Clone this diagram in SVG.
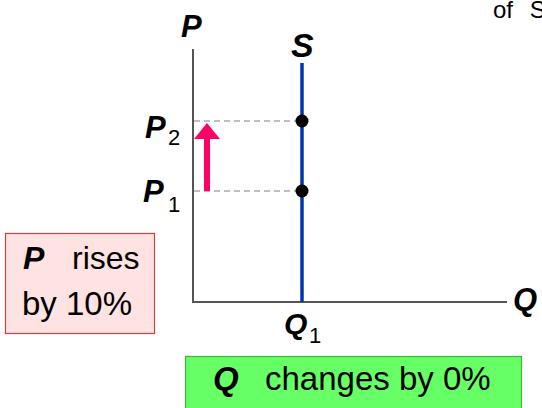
<svg xmlns="http://www.w3.org/2000/svg" width="542" height="408" viewBox="0 0 542 408">
<style>
text{font-family:"Liberation Sans","DejaVu Sans",sans-serif;fill:#000}
.bi{font-weight:bold;font-style:italic}
.axis{stroke:#555;stroke-width:2;fill:none}
.dash{stroke:#aaa;stroke-width:1.5;stroke-dasharray:6 4;fill:none}
</style>
<rect width="542" height="408" fill="#fff"/>
<text x="493" y="18" font-size="24" word-spacing="10">of S</text>
<g id="connectors">
<line class="dash" x1="194" y1="121" x2="302" y2="121"/>
<line class="dash" x1="194" y1="191" x2="302" y2="191"/>
<line x1="207" y1="191" x2="207" y2="136" stroke="#ff0066" stroke-width="6"/>
<polygon points="207,123 220,139 194,139" fill="#ff0066"/>
</g>
<g id="axes">
<polyline class="axis" points="193,49 193,302 507,302"/>
<text class="bi" x="181" y="37" font-size="31">P</text>
<text class="bi" x="513" y="310" font-size="31">Q</text>
</g>
<g id="supply">
<line x1="302" y1="63" x2="302" y2="302" stroke="#0038a8" stroke-width="3.5"/>
<text class="bi" x="291" y="57" font-size="34">S</text>
</g>
<g id="p2">
<circle cx="302" cy="121" r="6.5" fill="#000"/>
<text class="bi" x="145" y="138" font-size="31">P</text>
<text x="168" y="145" font-size="22">2</text>
</g>
<g id="p1">
<circle cx="302" cy="191" r="6.5" fill="#000"/>
<text class="bi" x="143" y="202" font-size="31">P</text>
<text x="168" y="212" font-size="22">1</text>
</g>
<g id="q1">
<text class="bi" x="284" y="334" font-size="30">Q</text>
<text x="309" y="343" font-size="22">1</text>
</g>
<g id="price-box">
<rect x="5.5" y="233.5" width="149" height="100" fill="#ffe3e3" stroke="#d04040" stroke-width="1.2"/>
<text x="23" y="269" font-size="32"><tspan class="bi">P</tspan><tspan x="72">rises</tspan></text>
<text x="22" y="315" font-size="33">by 10%</text>
</g>
<g id="qty-box">
<rect x="185.5" y="356.5" width="336" height="60" fill="#66ff66" stroke="#3cb83c" stroke-width="1.2"/>
<text x="213" y="390" font-size="33"><tspan class="bi">Q</tspan><tspan x="265">changes by 0%</tspan></text>
</g>
</svg>
